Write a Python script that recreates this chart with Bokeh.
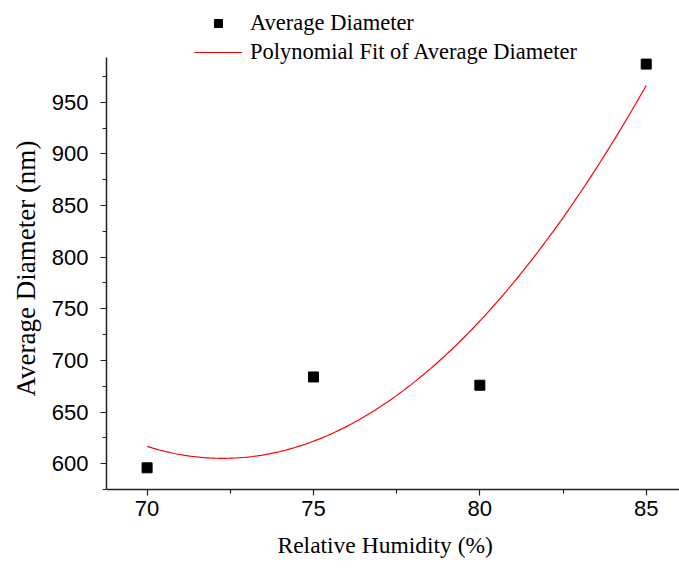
import numpy as np
from bokeh.plotting import figure
from bokeh.models import FixedTicker, Legend, LegendItem, Range1d, Title
from bokeh.embed import file_html
from bokeh.resources import INLINE

# Data
humidity = [70, 75, 80, 85]
avg_diameter = [596, 684, 676, 987]
x_ticks = [70, 75, 80, 85]
x_minor = [72.5, 77.5, 82.5]
y_ticks = [600, 650, 700, 750, 800, 850, 900, 950]
y_minor = [575, 625, 675, 725, 775, 825, 875, 925, 975]

# Quadratic (polynomial order 2) fit of the data
coef = np.polyfit(humidity, avg_diameter, 2)
fit_x = np.linspace(min(humidity), max(humidity), 200)
fit_y = np.polyval(coef, fit_x)

Y_LO, Y_HI = 575, 993.5
p = figure(width=679, height=568, output_backend="svg", toolbar_location=None,
           x_range=Range1d(68.78, 86.0), y_range=Range1d(Y_LO, 1048.6),
           min_border_left=106, min_border_right=0, min_border_top=0, min_border_bottom=78)
p.outline_line_color = None
p.xgrid.visible = False
p.ygrid.visible = False
p.background_fill_color = "white"
p.border_fill_color = "white"

pts = p.scatter(humidity, avg_diameter, marker="square", size=10, color="black")
fit = p.line(fit_x, fit_y, line_color="red", line_width=1.2)

for ax, tk, mn in ((p.xaxis[0], x_ticks, x_minor), (p.yaxis[0], y_ticks, y_minor)):
    ax.ticker = FixedTicker(ticks=tk, minor_ticks=mn)
    ax.axis_line_color = "#222222"
    ax.axis_line_width = 1.5
    ax.major_tick_line_color = "#222222"
    ax.minor_tick_line_color = "#222222"
    ax.major_tick_line_width = 1.2
    ax.minor_tick_line_width = 1.2
    ax.major_tick_out = 6
    ax.major_tick_in = 0
    ax.minor_tick_out = 4
    ax.minor_tick_in = 0
    ax.major_label_text_font = "Liberation Sans"
    ax.major_label_text_font_size = "22px"
    ax.major_label_text_color = "black"

p.yaxis[0].bounds = (Y_LO, Y_HI)
p.xaxis.major_label_standoff = 5
p.yaxis.major_label_standoff = 12

ytitle = Title(text="Average Diameter (nm)", align="left", offset=93,
               text_font="Liberation Serif", text_font_size="27px",
               text_font_style="normal", text_color="black", standoff=16)
p.add_layout(ytitle, "left")
xtitle = Title(text="Relative Humidity (%)", align="left", offset=171,
               text_font="Liberation Serif", text_font_size="23.5px",
               text_font_style="normal", text_color="black", standoff=22)
p.add_layout(xtitle, "below")

legend = Legend(items=[LegendItem(label="Average Diameter", renderers=[pts]),
                       LegendItem(label="Polynomial Fit of Average Diameter", renderers=[fit])],
                location=(88, 424), orientation="vertical",
                glyph_width=48, glyph_height=20, label_height=20, label_standoff=8,
                spacing=3, padding=0, margin=0,
                label_text_font="Liberation Serif", label_text_font_size="22.5px",
                label_text_color="black",
                border_line_color=None, background_fill_alpha=0)
p.add_layout(legend, "center")

open("out.html", "w").write(file_html(p, INLINE))
